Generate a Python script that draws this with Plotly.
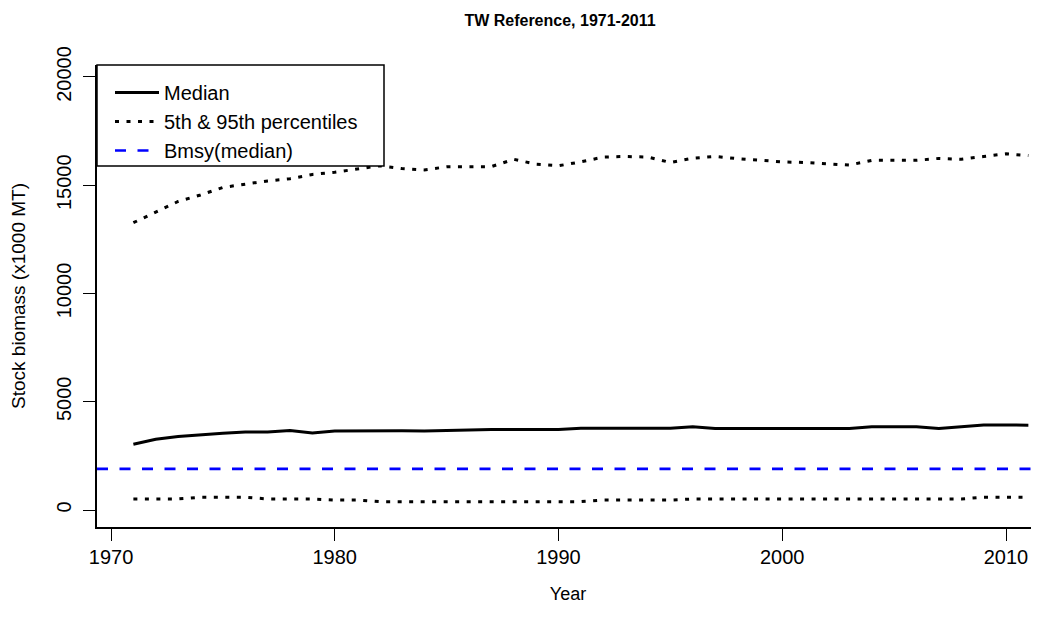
import plotly.graph_objects as go

years = list(range(1971, 2012))
median = [3040, 3270, 3400, 3480, 3540, 3600, 3600, 3670, 3560, 3650,
          3660, 3660, 3660, 3650, 3670, 3720, 3720, 3720, 3720, 3720,
          3780, 3780, 3780, 3780, 3780, 3850, 3760, 3760, 3760, 3760,
          3760, 3760, 3760, 3850, 3850, 3850, 3760, 3850, 3930, 3930, 3920]
upper = [13270, 13750, 14250, 14550, 14900, 15050, 15200, 15300, 15500, 15600,
         15750, 15900, 15770, 15710, 15850, 15860, 15860, 16200, 15970, 15900,
         16080, 16300, 16330, 16300, 16050, 16250, 16330, 16230, 16150, 16080,
         16050, 16000, 15930, 16150, 16150, 16150, 16240, 16200, 16330, 16450, 16370]
lower = [510, 510, 510, 590, 590, 590, 510, 510, 510, 460,
         460, 385, 385, 385, 385, 385, 385, 385, 385, 385,
         385, 460, 460, 460, 460, 510, 510, 510, 510, 510,
         510, 510, 510, 510, 510, 510, 510, 510, 590, 590, 590]
bmsy = 1900

x_range = [1969.374, 2011.475]
y_range = [-785, 20554]
x_ticks = [1970, 1980, 1990, 2000, 2010]
y_ticks = [0, 5000, 10000, 15000, 20000]

FONT = "Liberation Sans, Arial, Helvetica, sans-serif"

# page body has an 8px margin, so the figure is sized to fit the window
W, H = 1031, 626
ML, MR, MT, MB = 89, 0, 57, 107
pw = W - ML - MR
ph = H - MT - MB

fig = go.Figure()
fig.add_trace(go.Scatter(x=years, y=median, mode="lines", name="Median",
                         line=dict(color="black", width=3)))
fig.add_trace(go.Scatter(x=years, y=upper, mode="lines", name="5th & 95th percentiles",
                         legendgroup="pct",
                         line=dict(color="black", width=3, dash="4px,7.5px")))
fig.add_trace(go.Scatter(x=years, y=lower, mode="lines", name="5th & 95th percentiles",
                         legendgroup="pct", showlegend=False,
                         line=dict(color="black", width=3, dash="4px,7.5px")))
fig.add_trace(go.Scatter(x=x_range, y=[bmsy, bmsy], mode="lines", name="Bmsy(median)",
                         line=dict(color="#0000FF", width=2.7, dash="11px,11.5px")))

# legend frame
fig.add_shape(type="rect", xref="paper", yref="paper", x0=0, x1=287 / pw,
              y0=1 - 101 / ph, y1=1, line=dict(color="black", width=1.5),
              fillcolor="white", layer="above")

fig.update_layout(
    width=W, height=H,
    margin=dict(l=ML, r=MR, t=MT, b=MB, pad=0),
    paper_bgcolor="white", plot_bgcolor="white",
    font=dict(family=FONT, color="black", size=20),
    title=dict(text="<b>TW Reference, 1971-2011</b>", font=dict(size=16, family=FONT),
               x=552 / W, xref="container", xanchor="center",
               y=1 - 12 / H, yref="container", yanchor="middle"),
    showlegend=True,
    legend=dict(x=13 / pw, y=1 - 8 / ph, xanchor="left", yanchor="top",
                xref="paper", yref="paper",
                bgcolor="rgba(0,0,0,0)", borderwidth=0,
                font=dict(size=20, family=FONT), itemwidth=44,
                tracegroupgap=0),
    xaxis=dict(range=x_range, tickvals=x_ticks, ticktext=[str(v) for v in x_ticks],
               showgrid=False, zeroline=False, showline=True, linecolor="black", linewidth=1.5,
               ticks="outside", ticklen=12, tickwidth=1.3, tickcolor="black",
               tickfont=dict(size=20), ticklabelstandoff=-1,
               title=dict(text="Year", font=dict(size=18), standoff=21)),
    yaxis=dict(range=y_range, tickvals=y_ticks, ticktext=[str(v) for v in y_ticks],
               showgrid=False, zeroline=False, showline=True, linecolor="black", linewidth=1.5,
               ticks="outside", ticklen=12, tickwidth=1.3, tickcolor="black",
               tickangle=-90, tickfont=dict(size=20), ticklabelstandoff=4,
               title=dict(text="Stock biomass (x1000 MT)", font=dict(size=19), standoff=25)),
)

fig.write_html("out.html")
